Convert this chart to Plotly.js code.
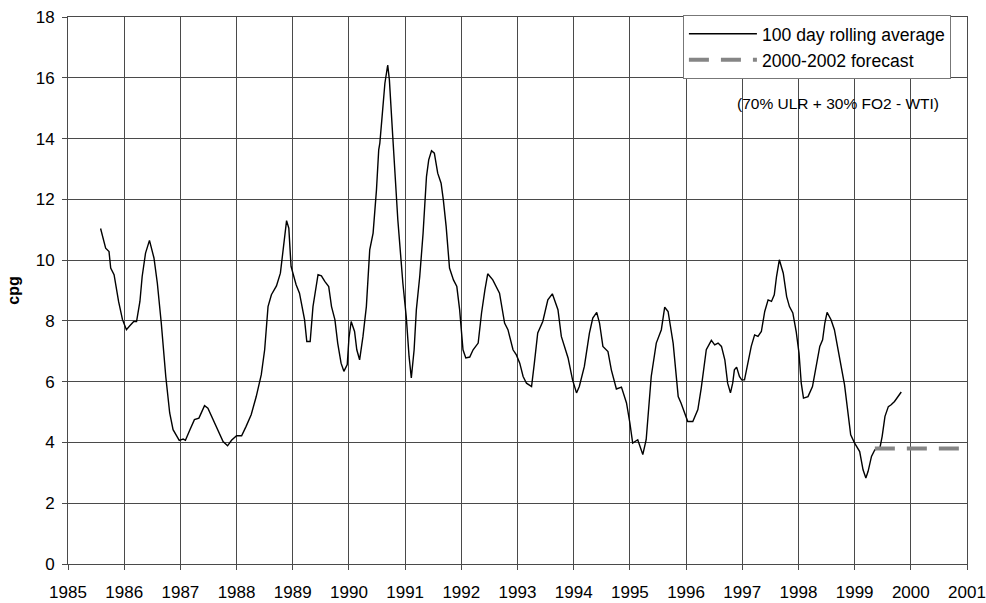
<!DOCTYPE html>
<html>
<head>
<meta charset="utf-8">
<script src="https://cdn.plot.ly/plotly-3.0.1.min.js"></script>
<style>
html,body{margin:0;padding:0;background:#fff;}
#chart{width:986px;height:603px;}
</style>
</head>
<body>
<div id="chart"></div>
<script>
// Decimal-year positions of the 100 day rolling average readings
const years = [
1985.58,1985.67,1985.73,1985.76,1985.82,1985.90,1985.97,1986.04,1986.10,1986.17,
1986.22,1986.28,1986.32,1986.38,1986.45,1986.53,1986.59,1986.66,1986.74,1986.81,
1986.87,1986.93,1986.98,1987.05,1987.09,1987.17,1987.25,1987.33,1987.43,1987.49,
1987.58,1987.67,1987.76,1987.84,1987.91,1988.00,1988.09,1988.17,1988.26,1988.35,
1988.44,1988.50,1988.56,1988.62,1988.71,1988.78,1988.84,1988.89,1988.93,1988.97,
1989.06,1989.12,1989.21,1989.25,1989.31,1989.36,1989.45,1989.51,1989.57,1989.64,
1989.69,1989.75,1989.80,1989.86,1989.91,1989.97,1990.00,1990.04,1990.10,1990.14,
1990.19,1990.25,1990.31,1990.37,1990.43,1990.49,1990.53,1990.55,1990.59,1990.64,
1990.69,1990.72,1990.78,1990.87,1990.96,1991.02,1991.07,1991.11,1991.16,1991.20,
1991.26,1991.32,1991.38,1991.42,1991.47,1991.52,1991.58,1991.64,1991.68,1991.73,
1991.79,1991.86,1991.92,1991.97,1992.03,1992.08,1992.15,1992.21,1992.30,1992.36,
1992.42,1992.47,1992.56,1992.68,1992.77,1992.83,1992.92,1992.98,1993.04,1993.10,
1993.16,1993.25,1993.30,1993.36,1993.45,1993.54,1993.62,1993.72,1993.78,1993.90,
1993.98,1994.05,1994.10,1994.19,1994.28,1994.34,1994.41,1994.46,1994.52,1994.61,
1994.67,1994.76,1994.85,1994.94,1995.00,1995.05,1995.14,1995.23,1995.29,1995.38,
1995.47,1995.56,1995.62,1995.68,1995.77,1995.86,1995.91,1995.97,1996.03,1996.12,
1996.21,1996.27,1996.36,1996.45,1996.51,1996.57,1996.63,1996.69,1996.74,1996.79,
1996.83,1996.86,1996.90,1996.95,1996.99,1997.04,1997.10,1997.16,1997.22,1997.28,
1997.34,1997.40,1997.46,1997.52,1997.57,1997.61,1997.66,1997.73,1997.79,1997.84,
1997.90,1997.96,1998.01,1998.05,1998.09,1998.17,1998.25,1998.32,1998.38,1998.43,
1998.47,1998.51,1998.58,1998.64,1998.70,1998.76,1998.82,1998.88,1998.93,1999.00,
1999.09,1999.15,1999.20,1999.24,1999.30,1999.36,1999.45,1999.49,1999.54,1999.60,
1999.65,1999.71,1999.77,1999.83
];
// cpg values of the 100 day rolling average
const cpg = [
11.04,10.39,10.28,9.74,9.52,8.64,8.04,7.71,7.84,7.98,
7.98,8.64,9.46,10.23,10.65,10.07,9.24,7.93,6.17,4.97,
4.42,4.20,4.07,4.11,4.07,4.42,4.75,4.80,5.21,5.13,
4.75,4.36,4.03,3.89,4.07,4.22,4.22,4.53,4.91,5.51,
6.23,7.05,8.47,8.86,9.15,9.57,10.56,11.30,11.05,9.79,
9.19,8.91,8.04,7.32,7.32,8.47,9.52,9.48,9.30,9.13,
8.47,8.04,7.27,6.61,6.34,6.56,7.43,7.98,7.65,7.05,
6.72,7.49,8.47,10.34,10.89,12.31,13.63,13.85,14.72,15.82,
16.42,15.93,14.07,11.33,9.24,8.14,6.83,6.12,7.05,8.37,
9.46,10.89,12.75,13.30,13.60,13.52,12.86,12.53,11.98,11.11,
9.74,9.35,9.13,8.37,7.05,6.78,6.81,7.05,7.27,8.26,
9.02,9.55,9.35,8.91,7.93,7.71,7.05,6.88,6.61,6.17,
5.95,5.84,6.61,7.60,7.98,8.69,8.89,8.37,7.49,6.78,
6.06,5.63,5.84,6.50,7.60,8.09,8.28,7.93,7.16,6.99,
6.39,5.76,5.82,5.30,4.64,3.98,4.09,3.60,4.09,6.17,
7.27,7.71,8.45,8.31,7.27,5.51,5.30,4.97,4.69,4.69,
5.08,5.79,7.05,7.36,7.21,7.27,7.16,6.72,5.95,5.63,
5.95,6.39,6.48,6.17,6.06,6.06,6.61,7.16,7.54,7.49,
7.65,8.31,8.69,8.64,8.86,9.46,10.01,9.57,8.80,8.47,
8.26,7.65,6.94,5.95,5.46,5.51,5.84,6.61,7.16,7.38,
7.93,8.28,8.04,7.71,7.16,6.50,5.90,4.97,4.25,3.98,
3.70,3.10,2.83,3.05,3.54,3.76,3.82,4.20,4.86,5.18,
5.24,5.35,5.51,5.66
];
// 2000-2002 forecast
const forecastYears = [1999.36, 2000.88];
const forecastCpg = [3.8, 3.8];

const seriesNames = ["100 day rolling average", "2000-2002 forecast"];
const noteText = "(70% ULR + 30% FO2 - WTI)";
const yTitle = "cpg";

const FONT = "Arial, 'Liberation Sans', sans-serif";
const GRID = "#4a4a4a";

const traces = [
  {
    x: years, y: cpg, type: "scatter", mode: "lines",
    name: seriesNames[0],
    line: {color: "#000", width: 1.4}
  },
  {
    x: forecastYears, y: forecastCpg, type: "scatter", mode: "lines",
    name: seriesNames[1],
    line: {color: "#858585", width: 4, dash: "20px,12px"}
  }
];

const layout = {
  width: 986, height: 603,
  margin: {l: 68, r: 19, t: 17, b: 39},
  paper_bgcolor: "#fff", plot_bgcolor: "#fff",
  font: {family: FONT, size: 17, color: "#000"},
  showlegend: true,
  legend: {
    x: 0.684, y: 1.004, xanchor: "left", yanchor: "top",
    bgcolor: "#fff", bordercolor: "#777", borderwidth: 1,
    font: {family: FONT, size: 17.6, color: "#000"},
    itemwidth: 68, tracegroupgap: 0
  },
  xaxis: {
    range: [1985, 2001], dtick: 1, tick0: 1985,
    showgrid: true, gridcolor: GRID, gridwidth: 1,
    zeroline: false, showline: true, linecolor: GRID, linewidth: 1, mirror: true,
    ticks: "outside", ticklen: 5, tickcolor: GRID,
    ticklabelstandoff: 8,
    tickfont: {family: FONT, size: 17, color: "#000"},
    fixedrange: true
  },
  yaxis: {
    range: [0, 18], dtick: 2, tick0: 0,
    showgrid: true, gridcolor: GRID, gridwidth: 1,
    zeroline: false, showline: true, linecolor: GRID, linewidth: 1, mirror: true,
    ticks: "outside", ticklen: 5, tickcolor: GRID,
    ticklabelstandoff: 4,
    tickfont: {family: FONT, size: 17, color: "#000"},
    title: {text: "<b>" + yTitle + "</b>", font: {family: FONT, size: 16, color: "#000"}, standoff: 12},
    fixedrange: true
  },
  annotations: [
    {
      xref: "paper", yref: "paper",
      x: (838 - 68) / 899, y: (564 - 103) / 547,
      xanchor: "center", yanchor: "middle",
      text: noteText, showarrow: false,
      font: {family: FONT, size: 15.5, color: "#000"}
    }
  ]
};

Plotly.newPlot("chart", traces, layout, {displayModeBar: false, staticPlot: true});
</script>
</body>
</html>
